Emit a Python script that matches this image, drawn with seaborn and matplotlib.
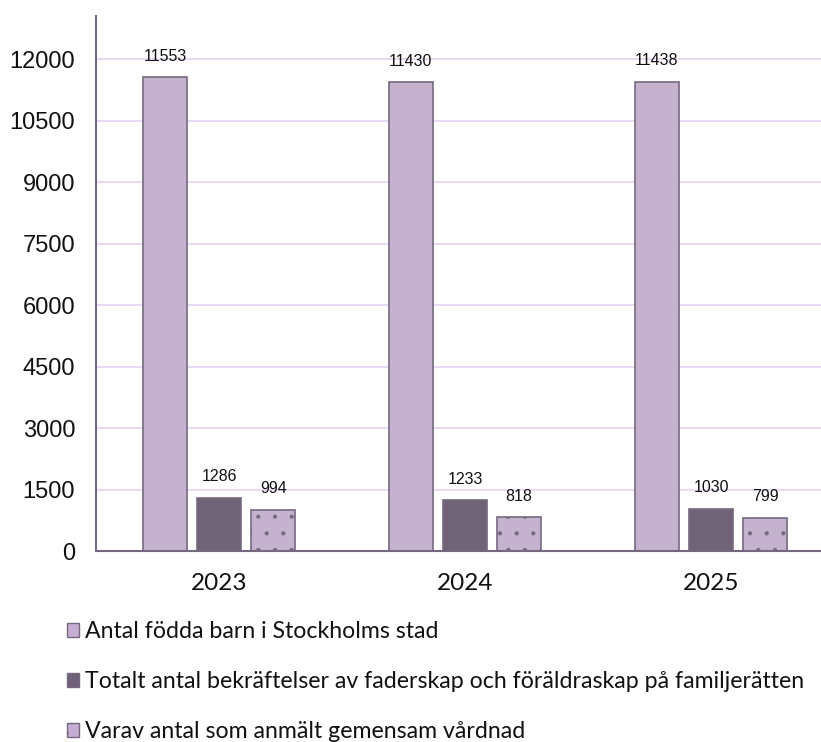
import pandas as pd
import seaborn as sns
import matplotlib.pyplot as plt
from matplotlib.patches import Patch

# data
years = ['2023', '2024', '2025']
series = ['Antal födda barn i Stockholms stad',
          'Totalt antal bekräftelser av faderskap och föräldraskap på familjerätten',
          'Varav antal som anmält gemensam vårdnad']
fodda = [11553, 11430, 11438]
bekraftelser = [1286, 1233, 1030]
gemensam = [994, 818, 799]
yticks = [0, 1500, 3000, 4500, 6000, 7500, 9000, 10500, 12000]

df = pd.DataFrame({
    'year': years * 3,
    'serie': [series[0]] * 3 + [series[1]] * 3 + [series[2]] * 3,
    'antal': fodda + bekraftelser + gemensam,
})

colors = ['#C5ADD3', '#6E6178', '#C5ADD3']
edge = '#76697F'
hatches = ['', '', '.']

sns.set_style('white')
plt.rcParams['font.family'] = ['Liberation Sans', 'DejaVu Sans']
plt.rcParams['hatch.linewidth'] = 0.6

fig = plt.figure(figsize=(8.21, 7.42), dpi=100)
ax = fig.add_axes([0.117, 0.2574, 0.883, 0.721])

sns.barplot(data=df, x='year', y='antal', hue='serie', order=years, hue_order=series,
            palette=colors, width=0.66, gap=0.18, edgecolor=edge, linewidth=1.2,
            legend=False, ax=ax)

for i, cont in enumerate(ax.containers):
    for bar in cont:
        bar.set_hatch(hatches[i])
    ax.bar_label(cont, labels=[str(int(v)) for v in cont.datavalues],
                 padding=10, fontsize=11.5, color='#111111')

ax.set_ylim(0, 13050)
ax.set_xlim(-0.5, 2.447)
ax.set_yticks(yticks)
ax.set_yticklabels([str(t) for t in yticks], fontsize=17, color='#111111')
ax.yaxis.grid(True, color='#E6D2F1', linewidth=1.2)
ax.set_axisbelow(True)
ax.tick_params(axis='y', length=0, pad=15)
ax.tick_params(axis='x', length=0, pad=16)
for lab in ax.get_xticklabels():
    lab.set_fontfamily(['Lato', 'DejaVu Sans'])
    lab.set_fontsize(17.5)
    lab.set_color('#111111')
ax.set_xlabel('')
ax.set_ylabel('')
sns.despine(ax=ax, top=True, right=True)
ax.spines['left'].set_color(edge)
ax.spines['left'].set_linewidth(1.5)
ax.spines['bottom'].set_color(edge)
ax.spines['bottom'].set_linewidth(1.5)

handles = [Patch(facecolor=colors[i], edgecolor=edge, hatch=hatches[i]) for i in range(3)]
fig.legend(handles, series, loc='upper left', bbox_to_anchor=(0.082, 0.163),
           frameon=False, prop={'family': ['Lato', 'DejaVu Sans'], 'size': 16.7},
           handlelength=0.52, handleheight=0.52, handletextpad=0.26,
           labelspacing=1.25, borderaxespad=0, borderpad=0, labelcolor='#111111')

fig.savefig('out.png', dpi=100)
